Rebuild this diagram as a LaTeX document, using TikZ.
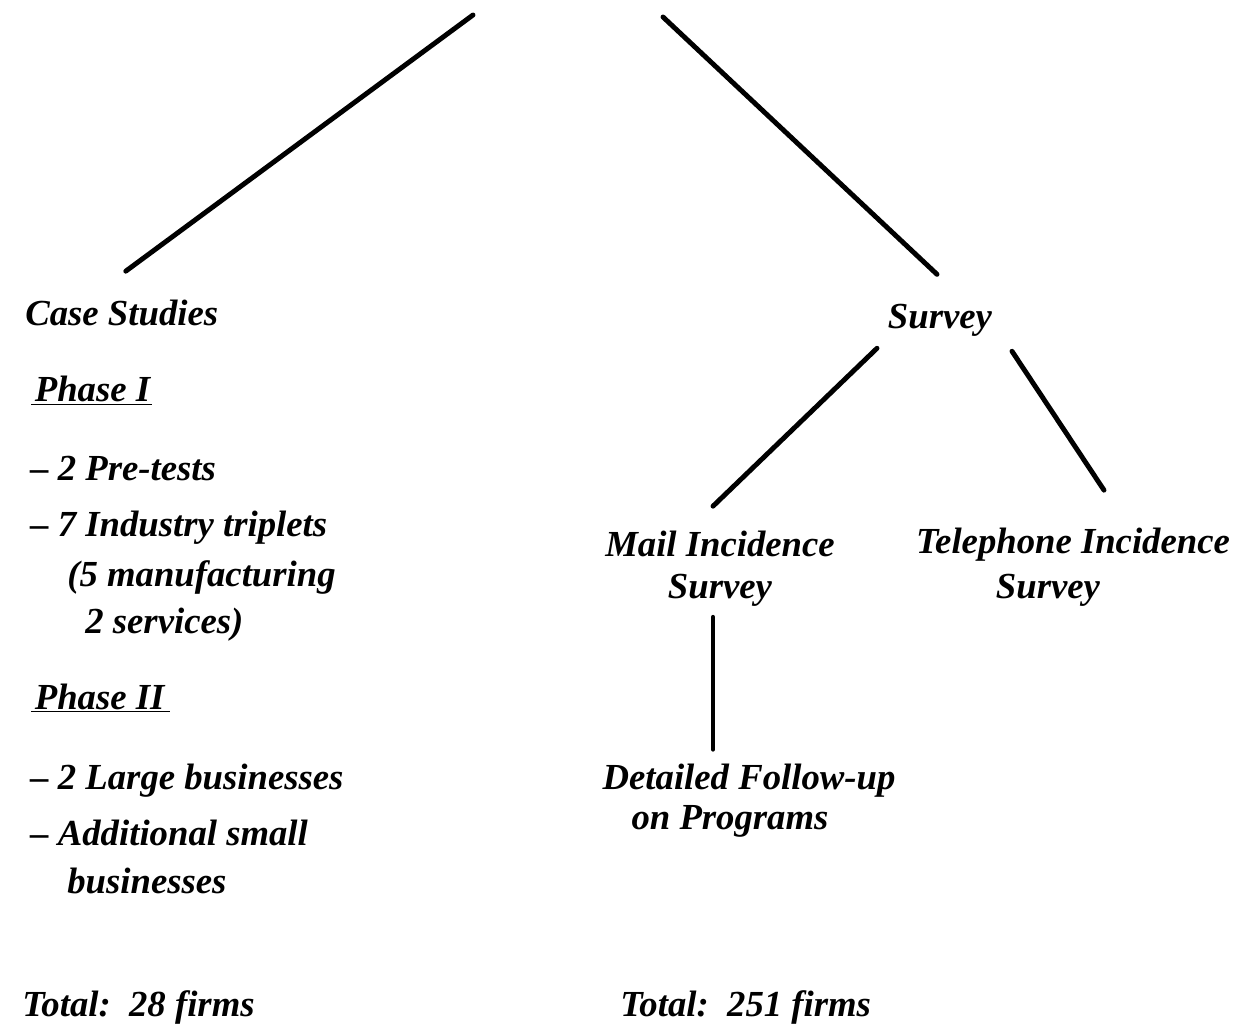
\documentclass[tikz,border=0pt]{standalone}
\usepackage{fontspec}
\setmainfont{Liberation Serif}
\usetikzlibrary{calc}

\begin{document}
\begin{tikzpicture}[x=0.02cm,y=-0.02cm,
    lbl/.style={font=\fontsize{20.9}{25}\selectfont\bfseries\itshape, inner sep=0pt},
    branch/.style={line width=2.8pt, line cap=round}]
    \useasboundingbox (0,0) rectangle (1237,1026);

    % top of the tree
    \coordinate (topL) at (473,15);
    \coordinate (topR) at (663,17);

    % Case studies
    \node[lbl, anchor=base west] (case) at (25,326) {Case Studies};
    \node[lbl, anchor=base west] (ph1) at (31,402) {\underline{\kern2pt Phase I\kern1pt}};
    \node[lbl, anchor=base west] (pre) at (30,481) {-- 2 Pre-tests};
    \node[lbl, anchor=base west] (ind) at (30,537) {-- 7 Industry triplets};
    \node[lbl, anchor=base west] (man) at (67,587) {(5 manufacturing};
    \node[lbl, anchor=base west] (ser) at (85,634) {2 services)};
    \node[lbl, anchor=base west] (ph2) at (31,709) {\underline{\kern2pt Phase II\kern3pt}};
    \node[lbl, anchor=base west] (lrg) at (30,789) {-- 2 Large businesses};
    \node[lbl, anchor=base west] (add) at (30,845) {-- Additional small};
    \node[lbl, anchor=base west] (bus) at (67,893) {businesses};
    \node[lbl, anchor=base west] (totL) at (22,1016) {Total:\ \ 28 firms};

    % Survey
    \node[lbl, anchor=base] (surv) at (940,329) {Survey};
    \node[lbl, anchor=base] (mail1) at (720,557) {Mail Incidence};
    \node[lbl, anchor=base] (mail2) at (720,599) {Survey};
    \node[lbl, anchor=base] (tel1) at (1073,554) {Telephone Incidence};
    \node[lbl, anchor=base] (tel2) at (1048,599) {Survey};
    \node[lbl, anchor=base] (det1) at (749,789) {Detailed Follow-up};
    \node[lbl, anchor=base] (det2) at (730,829) {on Programs};
    \node[lbl, anchor=base west] (totR) at (620,1016) {Total:\ \ 251 firms};

    % branches
    \draw[branch] (topL) -- ($(case.north)+(4,-29)$);
    \draw[branch] (topR) -- ($(surv.north)+(-3,-30)$);
    \draw[branch] ($(surv.south)+(-63,11)$) -- ($(mail1.north)+(-7,-25)$);
    \draw[branch] ($(surv.south)+(72,14)$) -- ($(tel1.north)+(31,-38)$);
    \draw[branch] ($(mail2.south)+(-7,10)$) -- ($(det1.north)+(-36,-14)$);
\end{tikzpicture}
\end{document}
